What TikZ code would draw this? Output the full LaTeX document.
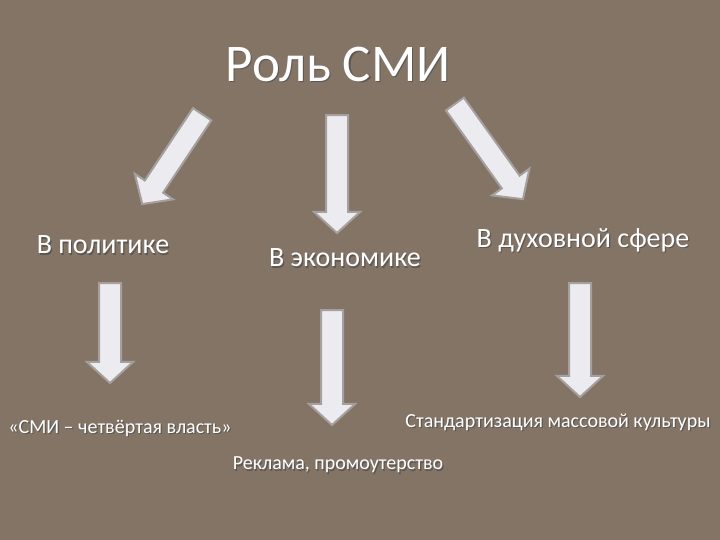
\documentclass[tikz,border=0pt]{standalone}
\usepackage{fontspec}
\setmainfont{Carlito}
\usetikzlibrary{shapes.arrows,calc}
\definecolor{bgc}{RGB}{131,116,102}
\definecolor{arrfill}{RGB}{236,236,240}
\definecolor{arredge}{RGB}{165,160,158}
\tikzset{
 blockarrow/.style={single arrow, draw=arredge, line width=2pt, fill=arrfill,
   inner xsep=0pt, inner ysep=10pt, single arrow head extend=12pt, single arrow tip angle=95},
}
\newcommand{\shadowtext}[4]{%
 \node[text=black!70, font=#3, opacity=0.7] at ($(#1)+(1.2pt,-1.2pt)$) {#4};
 \node[text=white, font=#3] (#2) at (#1) {#4};}
\begin{document}
\begin{tikzpicture}[x=1pt,y=1pt]
\fill[bgc] (0,0) rectangle (720,540);
\useasboundingbox (0,0) rectangle (720,540);
\shadowtext{338,476}{title}{\fontsize{53}{58}\selectfont}{Роль СМИ}
\shadowtext{103,295}{pol}{\fontsize{28}{32}\selectfont}{В политике}
\shadowtext{345,282}{eco}{\fontsize{28}{32}\selectfont}{В экономике}
\shadowtext{583,300}{dux}{\fontsize{28}{32}\selectfont}{В духовной сфере}
\shadowtext{120,112}{t1}{\fontsize{20}{24}\selectfont}{«СМИ – четвёртая власть»}
\shadowtext{338,75}{t2}{\fontsize{20}{24}\selectfont}{Реклама, промоутерство}
\shadowtext{558,118}{t3}{\fontsize{20}{24}\selectfont}{Стандартизация массовой культуры}
\node[blockarrow, minimum height=108pt, rotate=236.3] (a1) at (175,385) {};
\node[blockarrow, minimum height=118pt, rotate=270] (a2) at (337,371) {};
\node[blockarrow, minimum height=117pt, rotate=305.6] (a3) at (486,392.5) {};
\node[blockarrow, minimum height=100pt, rotate=270] (a4) at (110,212) {};
\node[blockarrow, minimum height=115pt, rotate=270] (a5) at (332,177.5) {};
\node[blockarrow, minimum height=114pt, rotate=270] (a6) at (580,205) {};
\end{tikzpicture}
\end{document}
